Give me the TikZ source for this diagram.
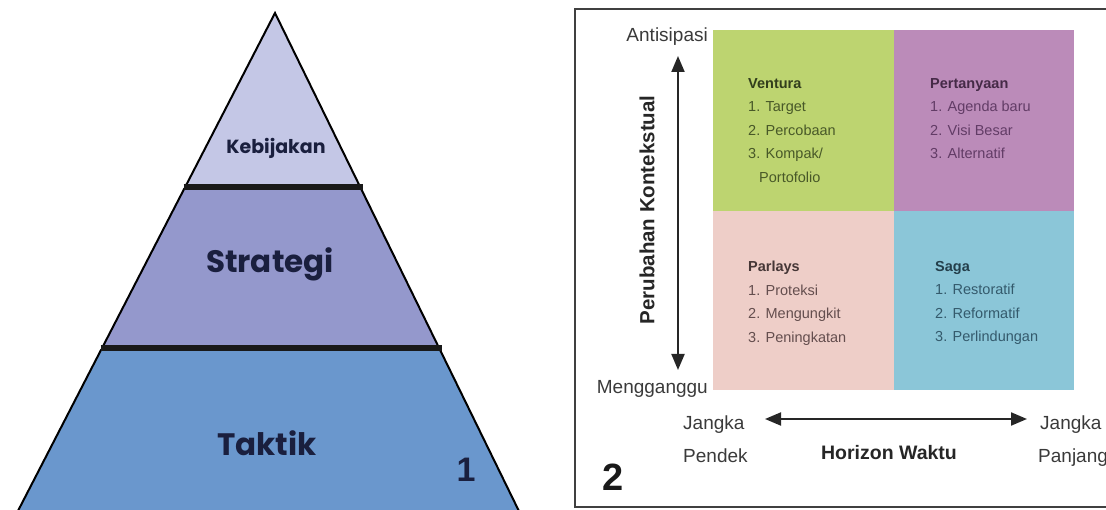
\documentclass[tikz,border=0pt]{standalone}
\usepackage{fontspec}
\setmainfont{Liberation Sans}
\newfontfamily\pyrfont{Poppins}
\usetikzlibrary{arrows.meta, positioning}

\definecolor{kebfill}{RGB}{196,199,230}
\definecolor{strfill}{RGB}{148,152,204}
\definecolor{takfill}{RGB}{106,151,205}
\definecolor{pyrink}{RGB}{26,31,62}
\definecolor{ventfill}{RGB}{189,212,112}
\definecolor{pertfill}{RGB}{187,139,185}
\definecolor{parlfill}{RGB}{238,206,200}
\definecolor{sagafill}{RGB}{139,198,216}
\definecolor{ventink}{RGB}{72,88,40}
\definecolor{pertink}{RGB}{98,60,102}
\definecolor{parlink}{RGB}{100,78,78}
\definecolor{sagaink}{RGB}{52,90,108}
\definecolor{axisink}{RGB}{58,58,58}

\begin{document}
\begin{tikzpicture}[x=1pt, y=-1pt,
    layer/.style = {draw=black, line width=2pt, line join=miter},
    band/.style = {draw=black!90, line width=6pt},
    pyrtext/.style = {text=pyrink, inner sep=0pt},
    axis/.style = {font=\fontsize{19}{19}\selectfont, text=axisink, inner sep=0pt},
    quad/.style = {font=\fontsize{14.5}{23.5}\selectfont, align=left, anchor=north west, inner sep=0pt},
    axisarrow/.style = {{Triangle[length=16pt, width=13pt]}-{Triangle[length=16pt, width=13pt]}, line width=2pt, draw=black!85}]
  \useasboundingbox (0,0) rectangle (1106,510);

  % pyramid, top to bottom
  \filldraw[layer, fill=kebfill] (275,13) -- (359.7,186) -- (185.7,186) -- cycle;
  \filldraw[layer, fill=strfill] (184.1,189) -- (361.2,189) -- (438.6,347) -- (102.6,347) -- cycle;
  \filldraw[layer, fill=takfill] (101.0,350) -- (440.1,350) -- (519.4,512) -- (17.4,512) -- cycle;
  \draw[band] (183.5,187.5) -- (362.5,187.5);
  \draw[band] (100.5,348.5) -- (441.5,348.5);

  \node (kebijakan) [pyrtext, font=\pyrfont\bfseries\fontsize{19}{19}\selectfont] at (276,148) {Kebijakan};
  \node (strategi) [pyrtext, font=\pyrfont\bfseries\fontsize{31}{31}\selectfont] at (270,264) {Strategi};
  \node (taktik) [pyrtext, font=\pyrfont\bfseries\fontsize{31}{31}\selectfont] at (267,443) {Taktik};
  \node (one) [pyrtext, font=\bfseries\fontsize{34}{34}\selectfont] at (466,470) {1};

  % matrix panel
  \draw[line width=1.5pt, draw=black!75] (575,9) rectangle (1116,507);

  \fill[ventfill] (713,30) rectangle (894,211);
  \fill[pertfill] (894,30) rectangle (1074,211);
  \fill[parlfill] (713,211) rectangle (894,390);
  \fill[sagafill] (894,211) rectangle (1074,390);

  \node (ventura) [quad, text=ventink] at (748,78)
    {{\bfseries\color{ventink!70!black}Ventura}\\1. Target\\2. Percobaan\\3. Kompak/\\\hspace*{11pt}Portofolio};
  \node (pertanyaan) [quad, text=pertink] at (930,78)
    {{\bfseries\color{pertink!70!black}Pertanyaan}\\1. Agenda baru\\2. Visi Besar\\3. Alternatif};
  \node (parlays) [quad, text=parlink] at (748,261)
    {{\bfseries\color{parlink!70!black}Parlays}\\1. Proteksi\\2. Mengungkit\\3. Peningkatan};
  \node (saga) [quad, text=sagaink] at (935,261)
    {{\bfseries\color{sagaink!70!black}Saga}\\1. Restoratif\\2. Reformatif\\3. Perlindungan};

  % axes
  \node (antisipasi) [axis, anchor=base east] at (708,42) {Antisipasi};
  \node (mengganggu) [axis, anchor=base east] at (708,394) {Mengganggu};
  \node (perubahan) [axis, font=\bfseries\fontsize{20.5}{20.5}\selectfont, text=black!85, rotate=90] at (647,210) {Perubahan Kontekstual};
  \coordinate (vtop) at (678,56);
  \coordinate (vbot) at (678,370);
  \draw[axisarrow] (vbot) -- (vtop);

  \node (jangkaL) [axis, anchor=base west] at (683,430) {Jangka};
  \node (pendek) [axis, anchor=base west] at (683,463) {Pendek};
  \node (jangkaR) [axis, anchor=base west] at (1040,430) {Jangka};
  \node (panjang) [axis, anchor=base west] at (1038,463) {Panjang};
  \node (horizon) [axis, font=\bfseries\fontsize{19.5}{19.5}\selectfont, text=black!85, anchor=base] at (889,460) {Horizon Waktu};
  \coordinate (hleft) at (765,419);
  \coordinate (hright) at (1027,419);
  \draw[axisarrow] (hleft) -- (hright);

  \node (two) [font=\bfseries\fontsize{38}{38}\selectfont, text=black!90] at (613,477) {2};
\end{tikzpicture}
\end{document}
